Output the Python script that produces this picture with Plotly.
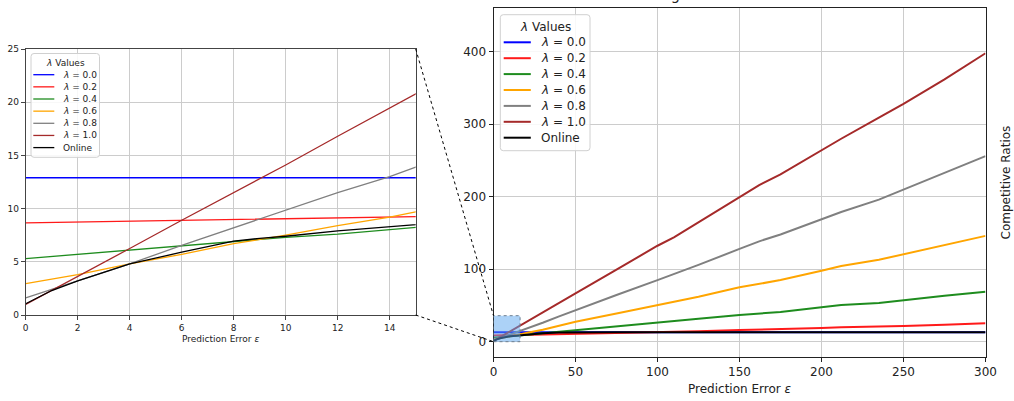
import plotly.graph_objects as go

W, H = 1014, 401

# ---------------- data ----------------
x_err = [0, 1, 2, 4, 6, 8, 9, 10, 12, 14, 15, 20, 30, 40, 50, 75, 100, 110,
         125, 150, 162, 175, 200, 212, 235, 250, 275, 300]

lam_00 = [12.9, 12.9, 12.9, 12.9, 12.9, 12.9, 12.9, 12.9, 12.9, 12.9, 12.9, 12.9, 12.9, 12.9,
          12.9, 12.9, 12.9, 12.9, 12.9, 12.9, 12.9, 12.9, 12.9, 12.9, 12.9, 12.9, 12.9, 12.9]
lam_02 = [8.65, 8.69, 8.73, 8.81, 8.89, 8.97, 9.01, 9.05, 9.13, 9.21, 9.25, 9.6, 10.2, 10.8,
          11.4, 12.2, 13.0, 13.6, 14.5, 16.0, 16.5, 17.2, 19.0, 19.8, 20.3, 21.6, 23.4, 25.3]
lam_04 = [5.3, 5.5, 5.7, 6.1, 6.5, 6.9, 7.1, 7.3, 7.6, 7.95, 8.15, 9.2, 11.0, 12.9,
          15.0, 20.5, 26.0, 27.6, 31.5, 37.0, 38.8, 41.0, 47.5, 50.5, 53.5, 57.5, 63.5, 69.0]
lam_06 = [2.94, 3.35, 3.8, 4.8, 5.7, 6.7, 7.1, 7.5, 8.4, 9.2, 9.7, 12.0, 16.5, 22.0,
          27.6, 39.0, 50.6, 55.0, 62.0, 75.0, 79.5, 85.0, 98.0, 104.5, 113.0, 120.5, 133.0, 146.0]
lam_08 = [1.6, 2.4, 3.2, 4.8, 6.55, 8.2, 9.0, 9.85, 11.5, 13.0, 13.9, 17.8, 26.2, 35.0,
          43.7, 64.5, 85.0, 93.0, 106.0, 128.0, 138.5, 148.0, 169.0, 179.0, 196.0, 210.0, 233.0, 256.0]
lam_10 = [1.0, 2.3, 3.6, 6.25, 8.9, 11.5, 12.85, 14.1, 16.8, 19.4, 20.65, 27.2, 40.3, 53.5,
          66.7, 99.5, 132.4, 144.0, 165.0, 199.0, 216.0, 231.0, 264.0, 280.0, 309.0, 328.0, 362.0, 398.0]
online = [1.06, 2.3, 3.2, 4.8, 5.9, 6.95, 7.2, 7.4, 7.9, 8.35, 8.55, 9.8, 11.5, 12.6,
          12.9, 12.9, 12.9, 12.9, 12.9, 12.9, 12.9, 12.9, 12.9, 12.9, 12.9, 12.9, 12.9, 12.9]

series_names = ["<i>λ</i> = 0.0", "<i>λ</i> = 0.2", "<i>λ</i> = 0.4", "<i>λ</i> = 0.6",
                "<i>λ</i> = 0.8", "<i>λ</i> = 1.0", "Online"]
series_values = [lam_00, lam_02, lam_04, lam_06, lam_08, lam_10, online]
series_colors = ["#0000ff", "#ff1a1a", "#1e8c1e", "#ffa500", "#808080", "#a52a2a", "#000000"]

legend_title = "<i>λ</i> Values"
x_title = "Prediction Error <i>ε</i>"
y_title = "Competitive Ratios"
main_title = "Algorithm Performance"

left_xrange, left_yrange = [0, 15], [0, 25]
right_xrange, right_yrange = [0, 300], [-20.7, 460]
zoom_x, zoom_y = [0, 16.2], [0, 35.9]

# ---------------- geometry (pixels) ----------------
LEFT_PX = (25.7, 49.0, 415.7, 315.0)     # x0, top, x1, bottom
RIGHT_PX = (493.5, 8.3, 985.5, 356.7)

def PX(p):
    return p / W

def PY(p):
    return 1 - p / H

left_xdom = [PX(LEFT_PX[0]), PX(LEFT_PX[2])]
left_ydom = [PY(LEFT_PX[3]), PY(LEFT_PX[1])]
right_xdom = [PX(RIGHT_PX[0]), PX(RIGHT_PX[2])]
right_ydom = [PY(RIGHT_PX[3]), PY(RIGHT_PX[1])]

def to_paper(xv, yv, xdom, ydom, xr, yr):
    fx = (xv - xr[0]) / (xr[1] - xr[0])
    fy = (yv - yr[0]) / (yr[1] - yr[0])
    return xdom[0] + fx * (xdom[1] - xdom[0]), ydom[0] + fy * (ydom[1] - ydom[0])

FONT = "DejaVu Sans"
TXT = "#222222"

fig = go.Figure()
for name, vals, col in zip(series_names, series_values, series_colors):
    fig.add_trace(go.Scatter(x=x_err, y=vals, mode="lines", name=name,
                             line=dict(color=col, width=1.3), xaxis="x", yaxis="y",
                             showlegend=False))
for name, vals, col in zip(series_names, series_values, series_colors):
    fig.add_trace(go.Scatter(x=x_err, y=vals, mode="lines", name=name,
                             line=dict(color=col, width=2), xaxis="x2", yaxis="y2",
                             showlegend=False))

def axis_common(fs, linecol):
    return dict(showgrid=True, gridcolor="#cccccc", gridwidth=1, zeroline=False,
                showline=True, mirror=True, linecolor=linecol, linewidth=1,
                ticks="outside", ticklen=4, tickwidth=1, tickcolor=linecol,
                tickfont=dict(size=fs, color=TXT, family=FONT), automargin=False)

fig.update_layout(
    width=W, height=H, template="none",
    margin=dict(l=0, r=0, t=0, b=0),
    paper_bgcolor="white", plot_bgcolor="white",
    font=dict(family=FONT, color=TXT),
    showlegend=False,
    xaxis=dict(domain=left_xdom, range=left_xrange, tick0=0, dtick=2, anchor="y",
               title=dict(text=x_title, font=dict(size=9, color=TXT), standoff=3),
               **axis_common(9, "#444444")),
    yaxis=dict(domain=left_ydom, range=left_yrange, tick0=0, dtick=5, anchor="x",
               **axis_common(9, "#444444")),
    xaxis2=dict(domain=right_xdom, range=right_xrange, tick0=0, dtick=50, anchor="y2",
                title=dict(text=x_title, font=dict(size=12, color=TXT), standoff=6),
                **axis_common(12, "#222222")),
    yaxis2=dict(domain=right_ydom, range=right_yrange, tickvals=[0, 100, 200, 300, 400],
                anchor="x2", **axis_common(12, "#222222")),
)

shapes = []
annotations = []

# zoom indicator rectangle on main axes
shapes.append(dict(type="rect", xref="x2", yref="y2", x0=zoom_x[0], x1=zoom_x[1],
                   y0=zoom_y[0], y1=zoom_y[1], fillcolor="rgba(90,165,240,0.5)",
                   line=dict(color="#6f7f90", width=1, dash="dot"), layer="above"))

# connectors from inset corners to rectangle corners
ltr = (left_xdom[1], left_ydom[1])
lbr = (left_xdom[1], left_ydom[0])
rtl = to_paper(zoom_x[0], zoom_y[1], right_xdom, right_ydom, right_xrange, right_yrange)
rbl = to_paper(zoom_x[0], zoom_y[0], right_xdom, right_ydom, right_xrange, right_yrange)
for a, b in [(ltr, rtl), (lbr, rbl)]:
    shapes.append(dict(type="line", xref="paper", yref="paper", x0=a[0], y0=a[1],
                       x1=b[0], y1=b[1], line=dict(color="black", width=1, dash="dot"),
                       layer="above"))

def add_legend(box, title_xy, hx, tx, row_y0, row_dy, fs, lw):
    x0, y0, x1, y1 = box
    r = 3
    path = (f"M {PX(x0+r)},{PY(y0)} L {PX(x1-r)},{PY(y0)} Q {PX(x1)},{PY(y0)} {PX(x1)},{PY(y0+r)} "
            f"L {PX(x1)},{PY(y1-r)} Q {PX(x1)},{PY(y1)} {PX(x1-r)},{PY(y1)} "
            f"L {PX(x0+r)},{PY(y1)} Q {PX(x0)},{PY(y1)} {PX(x0)},{PY(y1-r)} "
            f"L {PX(x0)},{PY(y0+r)} Q {PX(x0)},{PY(y0)} {PX(x0+r)},{PY(y0)} Z")
    shapes.append(dict(type="path", xref="paper", yref="paper", path=path,
                       fillcolor="rgba(255,255,255,0.85)",
                       line=dict(color="#d0d0d0", width=1), layer="above"))
    annotations.append(dict(text=legend_title, x=PX(title_xy[0]), y=PY(title_xy[1]),
                            xref="paper", yref="paper", xanchor="center", yanchor="middle",
                            showarrow=False, font=dict(size=fs, color=TXT, family=FONT)))
    for i, (name, col) in enumerate(zip(series_names, series_colors)):
        yy = row_y0 + i * row_dy
        shapes.append(dict(type="line", xref="paper", yref="paper", x0=PX(hx[0]), x1=PX(hx[1]),
                           y0=PY(yy), y1=PY(yy), line=dict(color=col, width=lw), layer="above"))
        annotations.append(dict(text=name, x=PX(tx), y=PY(yy), xref="paper", yref="paper",
                                xanchor="left", yanchor="middle", showarrow=False,
                                font=dict(size=fs, color=TXT, family=FONT)))

add_legend((31.0, 53.5, 99.5, 157.3), (65.5, 62.5), (33.3, 54.3), 61.0, 74.7, 12.15, 9, 1.3)
add_legend((500.3, 14.7, 590.0, 150.7), (545.0, 26.5), (503.7, 530.8), 538.5, 42.3, 15.9, 12, 2)

# title (clipped at top as in the reference)
annotations.append(dict(text=main_title, x=(right_xdom[0] + right_xdom[1]) / 2, y=PY(5.3),
                        xref="paper", yref="paper", xanchor="center", yanchor="bottom",
                        showarrow=False, font=dict(size=14.4, color=TXT, family=FONT)))
# y-axis label on the right
annotations.append(dict(text=y_title, x=PX(1006), y=(right_ydom[0] + right_ydom[1]) / 2,
                        xref="paper", yref="paper", xanchor="center", yanchor="middle",
                        textangle=-90, showarrow=False,
                        font=dict(size=12, color=TXT, family=FONT)))

fig.update_layout(shapes=shapes, annotations=annotations)
fig.write_html("out.html", config={"displayModeBar": False},
               post_script="document.body.style.margin='0px';document.body.style.overflow='hidden';")
